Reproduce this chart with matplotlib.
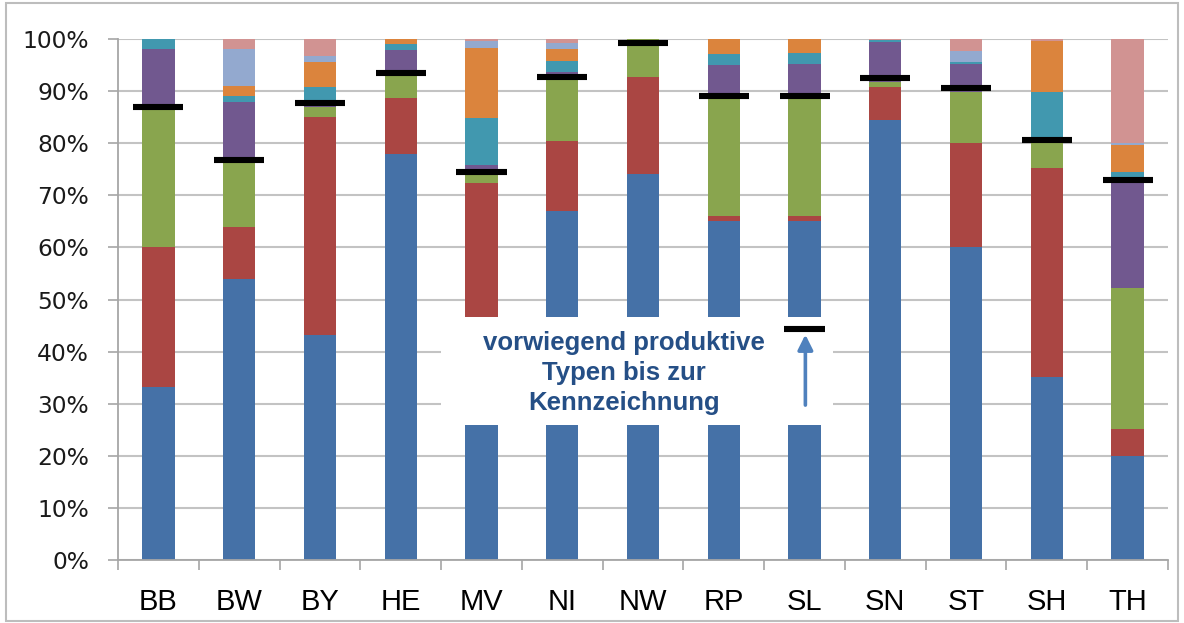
import matplotlib
matplotlib.use("Agg")
import matplotlib.pyplot as plt
from matplotlib.patches import Rectangle
import numpy as np

# Bundeslaender
laender = ["BB", "BW", "BY", "HE", "MV", "NI", "NW", "RP", "SL", "SN", "ST", "SH", "TH"]

# Anteile je Typ (in %), von unten nach oben gestapelt
blau = [33.3, 54.0, 43.2, 78.0, 38.0, 67.0, 74.1, 65.0, 65.0, 84.5, 60.0, 35.1, 20.0]
rot = [26.7, 10.0, 41.8, 10.6, 34.4, 13.4, 18.6, 1.0, 1.0, 6.3, 20.0, 40.2, 5.1]
gruen = [27.0, 12.8, 2.0, 4.5, 2.4, 12.1, 7.3, 23.0, 23.2, 1.0, 9.8, 4.7, 27.1]
lila = [11.0, 11.2, 1.0, 4.8, 1.0, 1.2, 0.0, 6.0, 6.0, 7.7, 5.4, 0.0, 20.2]
tuerkis = [2.0, 1.0, 2.8, 1.1, 9.0, 2.1, 0.0, 2.1, 2.1, 0.3, 0.4, 9.8, 2.1]
orange = [0.0, 2.0, 4.8, 1.0, 13.5, 2.2, 0.0, 2.9, 2.7, 0.0, 0.0, 9.8, 5.2]
hellblau = [0.0, 7.0, 1.1, 0.0, 1.4, 1.2, 0.0, 0.0, 0.0, 0.0, 2.1, 0.0, 0.3]
rosa = [0.0, 2.0, 3.3, 0.0, 0.3, 0.8, 0.0, 0.0, 0.0, 0.2, 2.3, 0.4, 20.0]

# Grenze der produktiven Typen (schwarze Striche)
grenze = [87.0, 76.8, 87.7, 93.5, 74.5, 92.7, 99.2, 89.0, 89.0, 92.5, 90.6, 80.6, 72.9]

# Beispiel-Markierung unter dem Textfeld (SL)
beispiel_land = "SL"
beispiel_wert = 44.4

serien = [blau, rot, gruen, lila, tuerkis, orange, hellblau, rosa]
farben = ["#4571A7", "#AA4643", "#89A54E", "#71588F", "#4198AF", "#DB843D", "#93A9CF", "#D19392"]

fig = plt.figure(figsize=(11.84, 6.23), dpi=100)
ax = fig.add_axes([0.0997, 0.1011, 0.8868, 0.8363])

x = np.arange(len(laender))
unten = np.zeros(len(laender))
for werte, farbe in zip(serien, farben):
    werte = np.array(werte)
    ax.bar(x, werte, bottom=unten, width=0.4, color=farbe, zorder=2)
    unten += werte

ax.hlines(grenze, x - 0.31, x + 0.31, color="black", linewidth=4.4, zorder=4)

# weisses Textfeld ueber den Balken
ax.add_patch(Rectangle((3.5, 25.9), 4.85, 20.7, facecolor="white", edgecolor="none", zorder=3))
ax.text(5.76, 35.9, "vorwiegend produktive\nTypen bis zur\nKennzeichnung", ha="center", va="center",
        fontsize=18.5, fontweight="bold", color="#254F86", family="Liberation Sans",
        linespacing=1.3, zorder=5)

xs = laender.index(beispiel_land)
ax.hlines(beispiel_wert, xs - 0.25, xs + 0.25, color="black", linewidth=4.4, zorder=5)
ax.annotate("", xy=(xs + 0.01, beispiel_wert - 0.6), xytext=(xs + 0.01, 29.2),
            arrowprops=dict(arrowstyle="-|>,head_length=0.9,head_width=0.45", color="#4F81BD",
                            lw=2.6), zorder=5)

ax.set_xlim(-0.5, len(laender) - 0.5)
ax.set_ylim(0, 100)

ax.set_yticks(np.arange(0, 101, 10))
ax.set_yticklabels([f"{v}%" for v in range(0, 101, 10)], fontsize=16.8, color="#1a1a1a",
                   family="DejaVu Sans")
ax.set_xticks(x)
ax.set_xticklabels(laender, fontsize=21, family="Liberation Sans", color="black")
ax.set_xticks(np.arange(-0.5, len(laender), 1), minor=True)
ax.tick_params(axis="x", which="major", length=0, pad=20)
ax.tick_params(axis="x", which="minor", length=7, width=1.2, color="#a6a6a6")
ax.tick_params(axis="y", length=7, width=1.2, color="#a6a6a6", pad=14)

ax.grid(axis="y", color="#c3c3c3", linewidth=1.5, zorder=0)
ax.set_axisbelow(True)
for s in ["top", "right"]:
    ax.spines[s].set_visible(False)
for s in ["left", "bottom"]:
    ax.spines[s].set_color("#a6a6a6")
    ax.spines[s].set_linewidth(1.3)

# Rahmen des Diagrammbereichs
fig.patches.append(Rectangle((6 / 1184, 2 / 623), 1172 / 1184, 618 / 623, transform=fig.transFigure,
                             fill=False, edgecolor="#bdbdbd", linewidth=1.5))

plt.savefig("out.png", dpi=100)
